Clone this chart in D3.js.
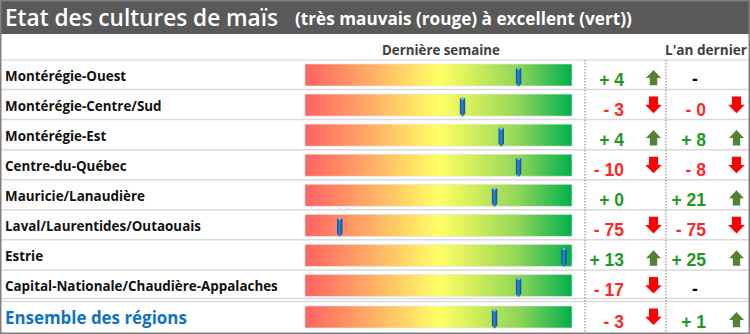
<!DOCTYPE html>
<html><head><meta charset="utf-8">
<script src="https://cdn.jsdelivr.net/npm/d3@7/dist/d3.min.js"></script>
<style>body{margin:0;background:#fff}svg{display:block}</style>
</head><body>
<svg id="c" width="750" height="334"></svg>
<script>
const regions = ["Montérégie-Ouest","Montérégie-Centre/Sud","Montérégie-Est","Centre-du-Québec","Mauricie/Lanaudière","Laval/Laurentides/Outaouais","Estrie","Capital-Nationale/Chaudière-Appalaches","Ensemble des régions"];
const scores = [80, 59, 73.5, 80, 71, 13, 97, 80, 71];
const weekChange = [4, -3, 4, -10, 0, -75, 13, -17, -3];
const weekDir = ["up","down","up","down",null,"down","up","down","down"];
const yearChangeLabels = ["-", "- 0", "+ 8", "- 8", "+ 21", "- 75", "+ 25", "-", "+ 1"];
const yearDir = [null,"down","up","down","up","down","up",null,"up"];
const title = "Etat des cultures de maïs";
const subtitle = "(très mauvais (rouge) à excellent (vert))";
const headWeek = "Dernière semaine";
const headYear = "L'an dernier";

const svg = d3.select("#c");
const W = 750, H = 334;
const font = "'Open Sans', sans-serif";
const GREEN = "#1f9a1f", RED = "#ff2626", ARROW_UP = "#548235", ARROW_DN = "#ff0000";

function fitText(sel, target) {
  const w = sel.node().getComputedTextLength();
  const fs = parseFloat(sel.attr("font-size"));
  sel.attr("font-size", fs * target / w);
}

const defs = svg.append("defs");
const grad = defs.append("linearGradient").attr("id","g").attr("x1","0").attr("x2","1").attr("y1","0").attr("y2","0");
[[0,"#ff6262"],[0.25,"#ffae66"],[0.5,"#ffff66"],[0.62,"#d6ef5c"],[0.8,"#8fd658"],[1,"#00b04e"]]
  .forEach(([o,c]) => grad.append("stop").attr("offset",o).attr("stop-color",c));
const mg = defs.append("linearGradient").attr("id","m").attr("x1","0").attr("x2","1");
[[0,"#0d4f9e"],[0.45,"#2f86d8"],[1,"#0b4a94"]].forEach(([o,c]) => mg.append("stop").attr("offset",o).attr("stop-color",c));

// title bar
svg.append("rect").attr("x",0).attr("y",0).attr("width",W).attr("height",34).attr("fill","#595959");
const t1 = svg.append("text").attr("x",5).attr("y",26).attr("fill","#fff").attr("font-family",font)
  .attr("font-weight",600).attr("font-size",22).text(title);
fitText(t1, 273);
const t2 = svg.append("text").attr("x",295).attr("y",25).attr("fill","#fff").attr("font-family",font)
  .attr("font-weight",700).attr("font-size",14).text(subtitle);
fitText(t2, 337);

// headers
const h1 = svg.append("text").attr("x",441).attr("y",55).attr("text-anchor","middle").attr("fill","#404040")
  .attr("font-family",font).attr("font-weight",700).attr("font-size",13).text(headWeek);
fitText(h1, 118);
const h2 = svg.append("text").attr("x",706).attr("y",55).attr("text-anchor","middle").attr("fill","#404040")
  .attr("font-family",font).attr("font-weight",700).attr("font-size",13).text(headYear);
fitText(h2, 82);

svg.append("line").attr("x1",0).attr("x2",W).attr("y1",60).attr("y2",60).attr("stroke","#e0e0e0").attr("stroke-width",1.5);

const yIdx = d3.scaleLinear().domain([0,1]).range([60, 90.06]);
const rowTop = i => yIdx(i) + (i === 8 ? 1.5 : 0);
const x = d3.scaleLinear().domain([0,100]).range([305, 572]);

// separators
d3.range(1,9).forEach(i => {
  const y = rowTop(i) - 0.5;
  svg.append("line").attr("x1",0).attr("x2",W).attr("y1",y).attr("y2",y).attr("stroke","#dadada").attr("stroke-width",1.5);
  if (i === 8) svg.append("line").attr("x1",0).attr("x2",W).attr("y1",y-3).attr("y2",y-3).attr("stroke","#dadada").attr("stroke-width",1.5);
});

// dotted verticals
[585, 666].forEach(xx => svg.append("line").attr("x1",xx).attr("x2",xx).attr("y1",60).attr("y2",332)
  .attr("stroke","#7f7f7f").attr("stroke-width",1).attr("stroke-dasharray","1.5,1.5"));

const rows = svg.append("g").selectAll("g").data(regions).join("g")
  .attr("transform",(d,i)=>`translate(0,${rowTop(i)})`);

// labels
const labSel = rows.append("text").attr("x",5).attr("y",(d,i)=> i===8 ? 22 : 21)
  .attr("font-family",font).attr("font-weight",700)
  .attr("font-size",(d,i)=> i===8 ? 17 : 13)
  .attr("fill",(d,i)=> i===8 ? "#1072c4" : "#111")
  .text(d=>d);
const longest = labSel.filter((d,i)=>i===7);
const baseFs = 13 * 273 / longest.node().getComputedTextLength();
labSel.filter((d,i)=>i<8).attr("font-size", baseFs);
fitText(labSel.filter((d,i)=>i===8), 182);

// bars
rows.append("rect").attr("x",x(0)).attr("y",4).attr("width",x(100)-x(0)).attr("height",22)
  .attr("fill","url(#g)").attr("stroke","#e6e6e6").attr("stroke-width",0.6);

// markers
rows.append("path").attr("transform",(d,i)=>`translate(${x(scores[i])},0)`)
  .attr("d","M-2.7,9 Q-2.7,7.5 0,7.5 Q2.7,7.5 2.7,9 L2.7,23.5 L0,26.8 L-2.7,23.5 Z")
  .attr("fill","url(#m)");
rows.append("rect").attr("transform",(d,i)=>`translate(${x(scores[i])},0)`)
  .attr("x",-1.6).attr("y",7.8).attr("width",3.2).attr("height",1.8).attr("fill","#7cc4f4").attr("rx",0.8);

// value texts
const numFont = "'Liberation Sans', Arial, sans-serif";
const fmt = v => (v < 0 ? "- " : "+ ") + Math.abs(v);
rows.append("text").attr("x",624).attr("y",26).attr("text-anchor","end")
  .attr("font-family",numFont).attr("font-weight",700).attr("font-size",17.5)
  .attr("fill",(d,i)=> weekChange[i] < 0 ? RED : GREEN).text((d,i)=>fmt(weekChange[i]));
rows.append("text").attr("x",(d,i)=> yearChangeLabels[i] === "-" ? 695 : 706).attr("y",(d,i)=> yearChangeLabels[i] === "-" ? 25 : 26)
  .attr("text-anchor",(d,i)=> yearChangeLabels[i] === "-" ? "middle" : "end")
  .attr("font-family",numFont).attr("font-weight",700).attr("font-size",17.5)
  .attr("fill",(d,i)=> yearChangeLabels[i] === "-" ? "#000" : (yearChangeLabels[i][0] === "-" ? RED : GREEN))
  .text((d,i)=>yearChangeLabels[i]);

// arrows
const upPath = "M0,0 L7.5,8 L3.7,8 L3.7,15.3 L-3.7,15.3 L-3.7,8 L-7.5,8 Z";
const dnPath = "M-4.5,0 L4.5,0 L4.5,8.3 L8.3,8.3 L0,16.6 L-8.3,8.3 L-4.5,8.3 Z";
function arrow(g, dir, cx) {
  if (!dir) return;
  if (dir === "up") g.append("path").attr("d",upPath).attr("transform",`translate(${cx},10)`).attr("fill",ARROW_UP);
  else g.append("path").attr("d",dnPath).attr("transform",`translate(${cx},6.5)`).attr("fill",ARROW_DN);
}
rows.each(function(d,i){
  const g = d3.select(this);
  arrow(g, weekDir[i], 653.5);
  arrow(g, yearDir[i], 736.5);
});

// frame
svg.append("rect").attr("x",0.75).attr("y",0.75).attr("width",W-1.5).attr("height",H-1.5)
  .attr("fill","none").attr("stroke","#808080").attr("stroke-width",1.5);
</script>
</body></html>
